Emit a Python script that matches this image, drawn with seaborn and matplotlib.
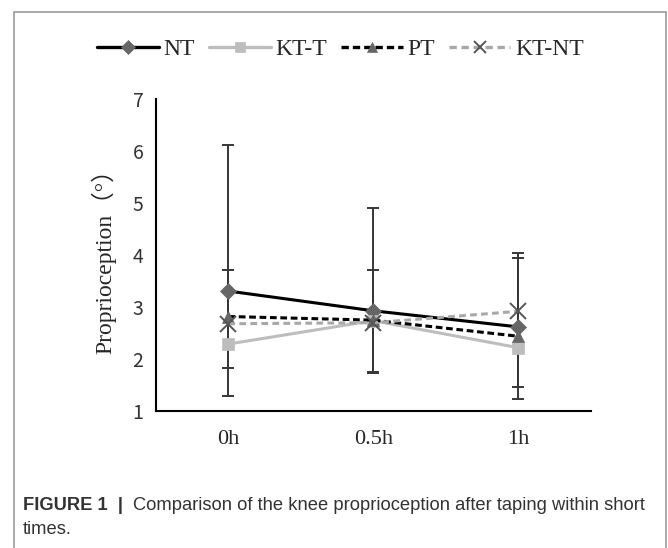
import numpy as np
import pandas as pd
import matplotlib
matplotlib.use('Agg')
import matplotlib.pyplot as plt
import matplotlib.patches as mpatches
import seaborn as sns

# data
times = ['0h', '0.5h', '1h']
series = ['NT', 'KT-T', 'PT', 'KT-NT']
nt = [3.31, 2.93, 2.62]
kt_t = [2.29, 2.74, 2.22]
pt = [2.82, 2.75, 2.44]
kt_nt = [2.68, 2.70, 2.92]

# error bar ends (only two bars are visible at each time point)
nt_top = [6.13, 4.91, 4.04]
nt_bottom = [1.28, 1.73, 1.23]
pt_top = [3.71, 3.71, 3.94]
pt_bottom = [1.82, 1.75, 1.46]

rows = []
for name, vals in zip(series, [nt, kt_t, pt, kt_nt]):
    for i, v in enumerate(vals):
        rows.append({'series': name, 'pos': i, 'value': v})
df = pd.DataFrame(rows)

sns.set_style('white')
fig = plt.figure(figsize=(6.68, 5.48), dpi=100)
ax = fig.add_axes([0.2335, 0.25, 0.6505, 0.5685])

palette = {'NT': 'black', 'KT-T': '#bdbdbd', 'PT': 'black', 'KT-NT': '#a8a8a8'}
# seaborn won't mix filled and line markers, so the cross is set afterwards
markers = {'NT': 'D', 'KT-T': 's', 'PT': '^', 'KT-NT': 'o'}
final_markers = {'NT': 'D', 'KT-T': 's', 'PT': '^', 'KT-NT': 'x'}
dashes = {'NT': '', 'KT-T': '', 'PT': (2.2, 1.2), 'KT-NT': (2.2, 1.4)}
mcolors = {'NT': '#666666', 'KT-T': '#bdbdbd', 'PT': '#666666', 'KT-NT': '#555555'}
msizes = {'NT': 8, 'KT-T': 9, 'PT': 9, 'KT-NT': 11}

# error bars first, so lines sit on top
for top, bottom, vals in [(nt_top, nt_bottom, nt), (pt_top, pt_bottom, pt)]:
    vals = np.array(vals)
    yerr = [vals - np.array(bottom), np.array(top) - vals]
    ax.errorbar(range(len(times)), vals, yerr=yerr, fmt='none', ecolor='#363636',
                elinewidth=1.4, capsize=4.5, capthick=1.4, zorder=1)

n_before = len(ax.lines)
sns.lineplot(data=df, x='pos', y='value', hue='series', style='series',
             palette=palette, markers=markers, dashes=dashes, hue_order=series,
             style_order=series, linewidth=2.2, ax=ax, legend=True, zorder=3)

def restyle(line, name, scale=1.0):
    line.set_marker(final_markers[name])
    line.set_markerfacecolor(mcolors[name])
    line.set_markeredgecolor(mcolors[name])
    line.set_markersize(msizes[name] * scale)
    if name == 'KT-NT':
        line.set_markeredgewidth(1.4)
    else:
        line.set_markeredgewidth(0.5)

data_lines = [l for l in ax.lines[n_before:] if len(l.get_xdata()) == len(times)]
for line, name in zip(data_lines, series):
    restyle(line, name)

handles, labels = ax.get_legend_handles_labels()
ax.get_legend().remove()
for h, name in zip(handles, labels):
    restyle(h, name, 0.85)
    h.set_linewidth(2.4)
fig.legend(handles, labels, loc='center', bbox_to_anchor=(0.51, 0.91), ncol=4,
           frameon=False, handlelength=2.6, columnspacing=0.6, handletextpad=0.2,
           prop={'family': 'Liberation Serif', 'size': 17})

ax.set_xlim(-0.5, 2.5)
ax.set_ylim(1, 7)
ax.set_xticks(range(len(times)))
ax.set_xticklabels(times, fontfamily='Liberation Serif', fontsize=16)
ax.set_xticks([-0.5, 0.5, 1.5, 2.5], minor=True)
ax.tick_params(axis='x', which='major', length=0, pad=14)
ax.tick_params(axis='x', which='minor', length=5, width=1.5, direction='out', color='black')
ax.set_yticks(range(1, 8))
ax.tick_params(axis='y', length=5, width=1.5, direction='out', color='black', pad=4)
for t in ax.get_yticklabels():
    t.set_fontfamily('Noto Sans CJK SC')
    t.set_fontsize(14)
    t.set_color('#333333')

ax.set_xlabel('')
ax.set_ylabel('Proprioception（°）', fontsize=17,
              family=['Liberation Serif', 'Noto Sans CJK SC'], labelpad=12)
sns.despine(ax=ax)
for s in ['left', 'bottom']:
    ax.spines[s].set_color('black')
    ax.spines[s].set_linewidth(1.5)

# outer frame around the figure panel
fig.patches.append(mpatches.Rectangle((14 / 668, -0.02), 652 / 668, 1.0 - 12 / 548 + 0.02,
                                      transform=fig.transFigure, fill=False,
                                      edgecolor='#9a9a9a', linewidth=1.2))

cap_font = 'Liberation Sans'
bold = fig.text(23 / 668, 1 - 505 / 548, 'FIGURE 1  |  ', fontsize=13.2, fontweight='bold',
                family=cap_font, color='#333333', va='center')
ax.annotate('Comparison of the knee proprioception after taping within short',
            xy=(1, 0), xycoords=bold, xytext=(0, 0), textcoords='offset points',
            fontsize=13.2, family=cap_font, color='#333333', va='bottom',
            annotation_clip=False)
fig.text(23 / 668, 1 - 530 / 548, 'times.', fontsize=13.2, family=cap_font,
         color='#333333', va='center')

fig.savefig('out.png', dpi=100)
